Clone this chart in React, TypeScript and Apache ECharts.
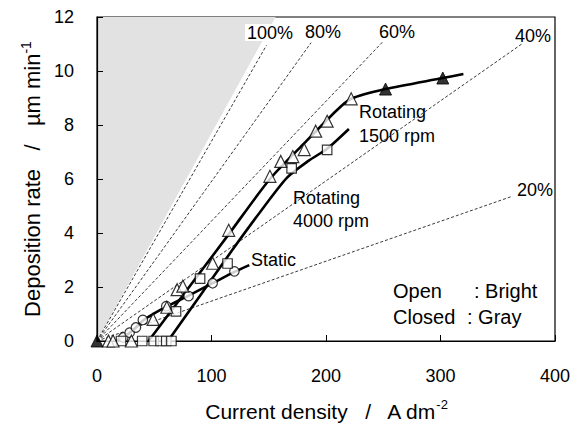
import React, { useEffect, useRef } from 'react';
import * as echarts from 'echarts';

// ---- data ----
const openTriangles: [number, number][] = [
  [10, 0], [14, 0], [30, 0], [49, 0.8], [61, 1.25], [70, 1.9], [75, 2.03],
  [101, 2.88], [115, 4.1], [151, 6.1], [160.5, 6.65], [171, 6.83], [181, 7.09],
  [191, 7.77], [201, 8.14], [222, 8.97],
];
const closedTriangles: [number, number][] = [[0, 0], [252, 9.33], [302, 9.74]];
const openSquares: [number, number][] = [
  [21, 0], [39.5, 0], [49.5, 0], [55.5, 0], [60.5, 0], [65, 0], [69, 1.1],
  [90, 2.31], [114, 2.87], [170, 6.39], [201, 7.08],
];
const openCircles: [number, number][] = [
  [23, 0.13], [28.5, 0.31], [34, 0.5], [40, 0.78], [60.5, 1.29], [80, 1.66],
  [101, 2.14], [120, 2.58],
];
const curve1500: [number, number][] = [
  [45, 0], [80, 1.97], [115, 3.95], [151, 6.0], [180, 7.28], [209, 8.53],
  [222, 8.97], [252, 9.33], [302, 9.74], [320, 9.89],
];
const curve4000: [number, number][] = [
  [62, 0], [90, 1.68], [118, 3.36], [142, 4.75], [166, 6.05], [185, 6.68],
  [201, 7.12], [220, 7.85],
];
const curveStatic: [number, number][] = [
  [17, 0], [23, 0.15], [29, 0.32], [34, 0.5], [40, 0.75], [50, 1.02],
  [61, 1.28], [80, 1.68], [101, 2.14], [120, 2.56], [133, 2.81],
];
const efficiencyNames = ['100%', '80%', '60%', '40%', '20%'];
const efficiencyEnds: [number, number][] = [
  [148, 10.95], [187, 11.05], [250, 11.1], [371, 11.0], [362, 5.35],
];
const theoreticalBoundary: [number, number][] = [[0, 0], [156, 12]];

const FONT = '"Liberation Sans", Arial, Helvetica, sans-serif';

export default function App() {
  const ref = useRef<HTMLDivElement>(null);
  useEffect(() => {
    if (!ref.current) return;
    const chart = echarts.init(ref.current, null, { renderer: 'svg' });

    const openStyle = { color: '#fff', borderColor: '#000', borderWidth: 1.2 };

    const effSeries = efficiencyEnds.map((end, i) => ({
      name: efficiencyNames[i],
      type: 'line',
      data: [[0, 0], end],
      symbol: 'none',
      silent: true,
      z: 1,
      lineStyle: { color: '#222', width: 0.9, type: [3, 2] },
    }));

    const curve = (data: [number, number][]) => ({
      type: 'line',
      data,
      smooth: 0.25,
      symbol: 'none',
      z: 2,
      lineStyle: { color: '#000', width: 2.6 },
    });

    const scatter = (data: [number, number][], symbol: string, size: number, itemStyle: any) => ({
      type: 'scatter',
      data,
      symbol,
      symbolSize: size,
      clip: false,
      z: 3,
      itemStyle,
    });

    const txt = (text: string, x: number, y: number, size: number, align = 'left') => ({
      type: 'text',
      x,
      y,
      z: 10,
      style: {
        text,
        fill: '#000',
        fontSize: size,
        fontFamily: FONT,
        textAlign: align,
        textVerticalAlign: 'middle',
      },
    });

    const option: any = {
      animation: false,
      backgroundColor: '#fff',
      textStyle: { fontFamily: FONT },
      grid: {
        left: 97, right: 20, top: 17, bottom: 88,
        show: true, borderColor: '#000', borderWidth: 1.2, backgroundColor: 'transparent',
      },
      xAxis: {
        type: 'value', min: 0, max: 400, interval: 100,
        axisLine: { show: true, lineStyle: { color: '#000', width: 1.2 } },
        axisTick: { show: true, inside: true, length: 6, lineStyle: { color: '#000' } },
        axisLabel: { fontSize: 18, color: '#000', margin: 26, fontFamily: FONT },
        splitLine: { show: false },
        name: '{n|Current density   /   A dm}{s|-2}',
        nameLocation: 'middle',
        nameGap: 57,
        nameTextStyle: {
          rich: {
            n: { fontSize: 21, lineHeight: 26, color: '#000', fontFamily: FONT },
            s: { fontSize: 13, lineHeight: 14, color: '#000', verticalAlign: 'top', fontFamily: FONT },
          },
        },
      },
      yAxis: {
        type: 'value', min: 0, max: 12, interval: 2,
        axisLine: { show: true, lineStyle: { color: '#000', width: 1.2 } },
        axisTick: { show: true, inside: true, length: 6, lineStyle: { color: '#000' } },
        axisLabel: { fontSize: 18, color: '#000', margin: 23, fontFamily: FONT },
        splitLine: { show: false },
        name: '{n|Deposition rate   /   µm min}{s|-1}',
        nameLocation: 'middle',
        nameRotate: 90,
        nameGap: 51,
        nameTextStyle: {
          rich: {
            n: { fontSize: 22, lineHeight: 26, color: '#000', fontFamily: FONT },
            s: { fontSize: 14, lineHeight: 14, color: '#000', verticalAlign: 'top', fontFamily: FONT },
          },
        },
      },
      series: [
        {
          type: 'line',
          data: theoreticalBoundary,
          symbol: 'none',
          silent: true,
          z: 0,
          lineStyle: { width: 0, opacity: 0 },
          areaStyle: { color: '#e2e2e2', opacity: 1, origin: 'end' },
        },
        ...effSeries,
        curve(curve1500),
        curve(curve4000),
        curve(curveStatic),
        scatter(openCircles, 'circle', 9.5, openStyle),
        scatter(openSquares, 'rect', 9.5, openStyle),
        scatter(openTriangles, 'triangle', 12, openStyle),
        scatter(closedTriangles, 'triangle', 12, { color: '#000', borderColor: '#000', borderWidth: 1 }),
      ],
      graphic: [
        { type: 'rect', z: 5, shape: { x: 245, y: 24, width: 52, height: 17 }, style: { fill: '#fff' } },
        txt('100%', 270, 33, 18, 'center'),
        txt('80%', 323, 32, 18, 'center'),
        txt('60%', 397, 32, 18, 'center'),
        txt('40%', 533, 36, 18, 'center'),
        txt('20%', 535, 190, 18, 'center'),
        txt('Rotating', 359, 112, 18),
        txt('1500 rpm', 359, 136, 18),
        txt('Rotating', 293, 198, 18),
        txt('4000 rpm', 293, 221, 18),
        txt('Static', 251, 260, 18),
        txt('Open', 393, 291, 20),
        txt(': Bright', 474, 291, 20),
        txt('Closed', 393, 317, 20),
        txt(': Gray', 467, 317, 20),
      ],
    };
    chart.setOption(option);
    return () => chart.dispose();
  }, []);
  return (
    <div
      ref={ref}
      style={{ position: 'fixed', left: 0, top: 0, width: 575, height: 429, background: '#fff' }}
    />
  );
}
